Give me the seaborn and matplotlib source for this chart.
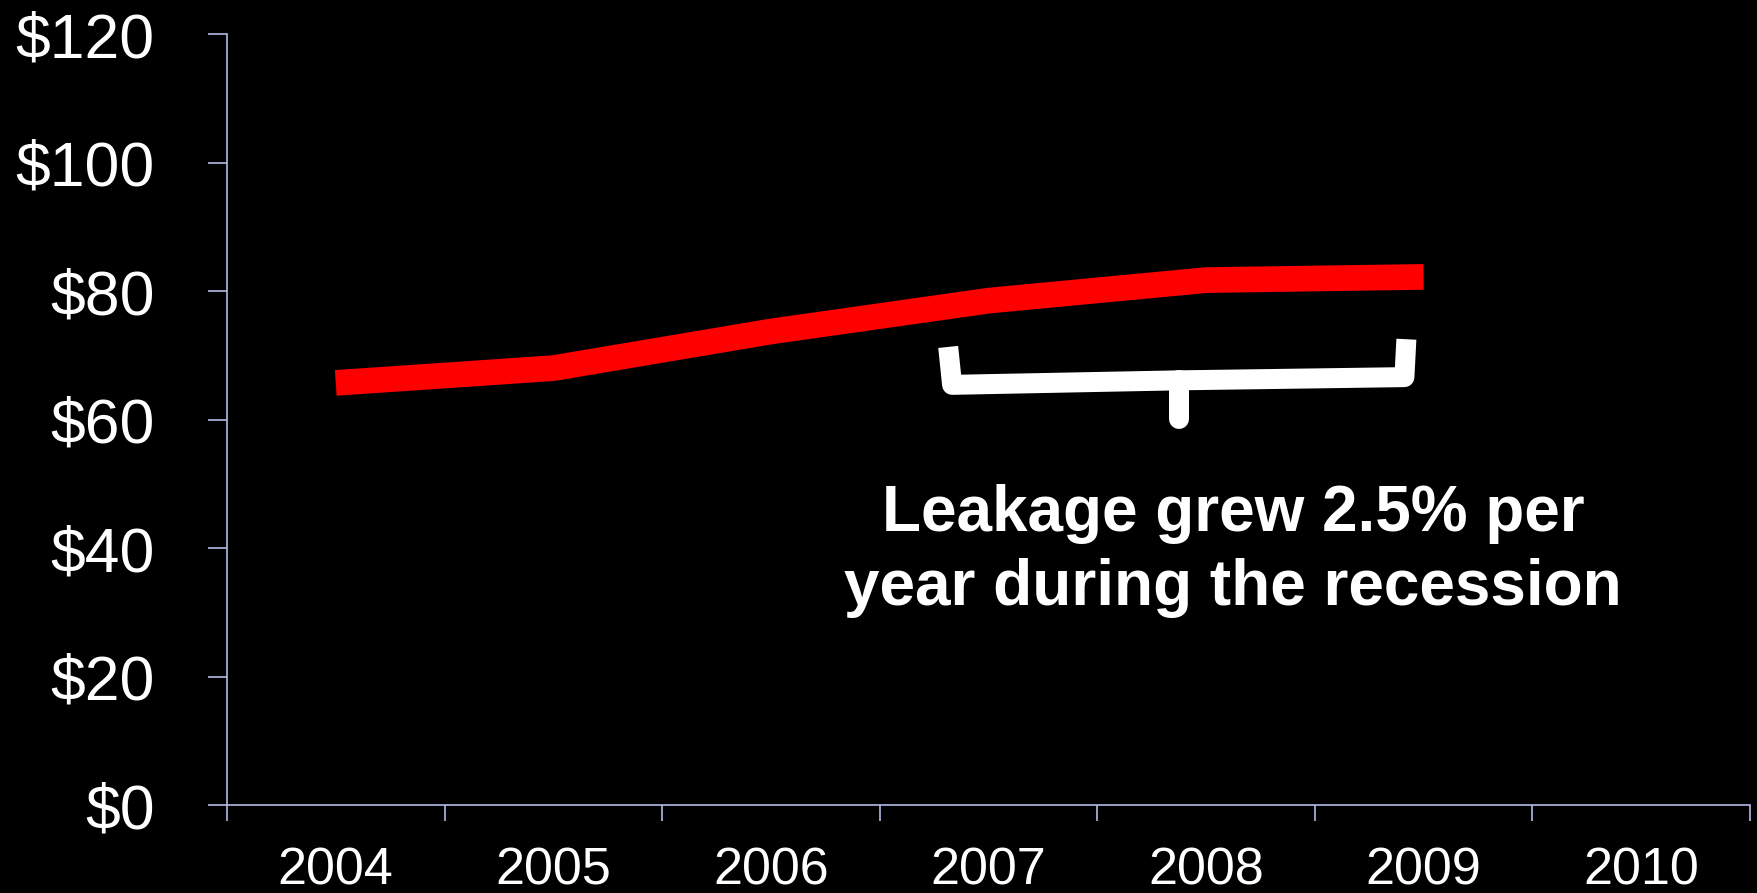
import matplotlib
matplotlib.use("Agg")
import matplotlib.pyplot as plt
import seaborn as sns
import pandas as pd

# Annual leakage (in $ billions)
years = [2004, 2005, 2006, 2007, 2008, 2009]
leakage = [65.7, 68.0, 73.7, 78.5, 81.7, 82.2]
axis_years = [2004, 2005, 2006, 2007, 2008, 2009, 2010]
y_ticks = [0, 20, 40, 60, 80, 100, 120]
y_tick_labels = ["$0", "$20", "$40", "$60", "$80", "$100", "$120"]
note = "Leakage grew 2.5% per\nyear during the recession"

sns.set_style("dark")
plt.rcParams["font.family"] = ["Liberation Sans", "DejaVu Sans"]

axis_color = "#b4b9e6"
fig = plt.figure(figsize=(17.58, 8.93), dpi=100, facecolor="black")
ax = fig.add_axes([0.1291, 0.0985, 0.8663, 0.8634])
ax.set_facecolor("black")

df = pd.DataFrame({"year": years, "leakage": leakage})
sns.lineplot(data=df, x="year", y="leakage", ax=ax, color="#ff0000",
             linewidth=18.5, solid_capstyle="butt", solid_joinstyle="round",
             sort=False)

ax.set_xlim(axis_years[0] - 0.5, axis_years[-1] + 0.5)
ax.set_ylim(0, 120)

# Year labels centred in each category, ticks on the category boundaries
ax.set_xticks(axis_years)
ax.set_xticklabels([str(y) for y in axis_years])
ax.set_xticks([y - 0.5 for y in axis_years] + [axis_years[-1] + 0.5], minor=True)
ax.tick_params(axis="x", which="both", bottom=True)
ax.tick_params(axis="x", which="major", length=0, pad=30, labelsize=37.5,
               labelcolor="white")
ax.tick_params(axis="x", which="minor", length=11.5, width=1.2,
               color=axis_color, direction="out")

ax.set_yticks(y_ticks)
ax.set_yticklabels(y_tick_labels)
ax.tick_params(axis="y", which="major", left=True, length=14, width=1.2,
               color=axis_color, direction="out", pad=38, labelsize=45,
               labelcolor="white")

ax.grid(False)
for side in ["top", "right"]:
    ax.spines[side].set_visible(False)
for side in ["left", "bottom"]:
    ax.spines[side].set_visible(True)
    ax.spines[side].set_color(axis_color)
    ax.spines[side].set_linewidth(1.2)
ax.set_xlabel("")
ax.set_ylabel("")

# Brace spanning the recession years
brace_x = [2006.815, 2006.833, 2007.877, 2008.912, 2008.921]
brace_y = [71.3, 65.4, 66.1, 66.6, 72.5]
ax.plot(brace_x, brace_y, color="white", linewidth=14.4,
        solid_joinstyle="round", solid_capstyle="butt")
ax.plot([2007.877, 2007.877], [66.1, 60.1], color="white", linewidth=14.4,
        solid_capstyle="round")

ax.text(2008.125, 39.6, note, color="white", fontsize=46, fontweight="bold",
        ha="center", va="center", linespacing=1.3)

fig.savefig("out.png", dpi=100, facecolor="black")
